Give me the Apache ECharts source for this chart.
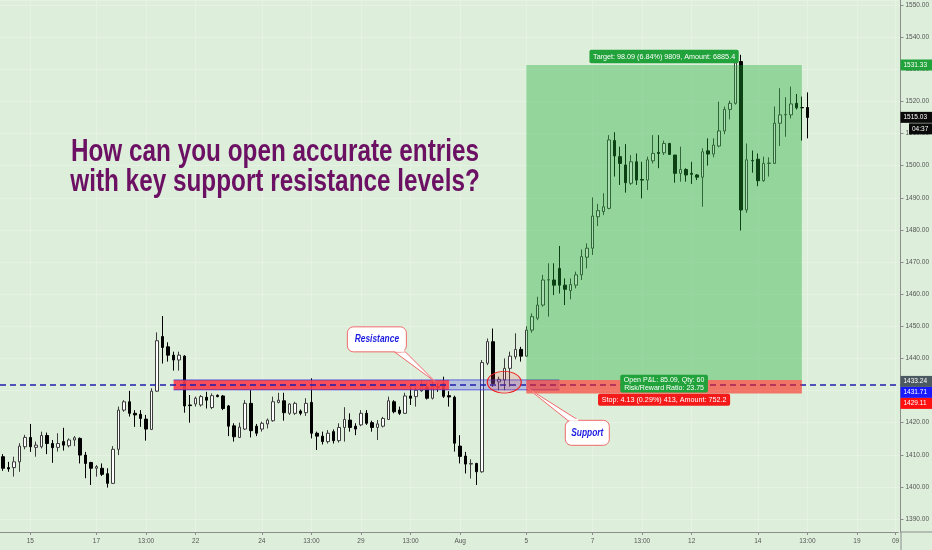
<!DOCTYPE html>
<html><head><meta charset="utf-8">
<script src="https://cdn.jsdelivr.net/npm/echarts@6/dist/echarts.min.js"></script>
<style>html,body{margin:0;padding:0;background:#ddefdb}#c{width:932px;height:550px}</style>
</head><body><div id="c"></div><script>
// ---- data (4h candles) ----
const opens = [1409.4,1406.0,1406.0,1407.8,1412.5,1415.4,1412.3,1412.5,1416.0,1413.5,1412.3,1414.1,1412.8,1414.6,1415.1,1409.9,1407.6,1405.8,1405.8,1404.1,1401.1,1411.7,1423.9,1426.5,1422.9,1422.6,1421.1,1417.9,1429.8,1446.8,1443.6,1441.0,1439.5,1440.7,1425.5,1425.8,1425.5,1427.9,1424.7,1428.5,1428.3,1425.2,1419.0,1415.4,1418.0,1426.0,1418.9,1418.0,1419.6,1420.6,1426.3,1426.8,1422.9,1422.9,1423.6,1423.1,1426.3,1416.7,1415.8,1414.1,1417.2,1414.4,1418.5,1420.8,1418.9,1419.3,1422.9,1420.0,1418.5,1418.9,1421.0,1426.5,1423.9,1422.9,1428.3,1428.1,1429.9,1431.0,1427.6,1431.2,1432.2,1428.4,1427.9,1412.7,1409.6,1407.1,1407.3,1404.7,1438.5,1445.2,1432.7,1433.3,1436.9,1440.5,1442.8,1440.7,1448.8,1452.5,1456.6,1464.4,1464.4,1468.0,1462.8,1461.1,1462.8,1466.0,1471.5,1474.3,1484.1,1485.7,1486.7,1507.8,1502.8,1500.2,1494.5,1501.2,1495.7,1495.5,1501.5,1504.1,1504.0,1506.9,1503.3,1497.6,1498.8,1497.6,1497.1,1496.4,1504.6,1503.6,1506.1,1510.8,1517.5,1519.4,1532.4,1486.2,1501.6,1502.0,1495.3,1500.7,1500.7,1513.2,1515.8,1515.8,1519.4,1518.1,1518.1];
const closes = [1405.8,1405.6,1407.8,1412.7,1415.4,1412.5,1413.0,1416.0,1413.5,1412.2,1413.5,1413.0,1414.6,1415.3,1409.9,1407.3,1405.8,1406.3,1403.9,1401.1,1411.7,1423.9,1426.5,1422.9,1422.4,1421.3,1418.0,1429.8,1445.5,1443.4,1441.0,1439.5,1441.0,1425.2,1425.3,1427.6,1428.1,1427.0,1428.4,1428.1,1424.4,1418.9,1415.6,1418.6,1426.0,1417.5,1416.7,1419.8,1420.8,1426.5,1427.0,1423.1,1425.8,1426.0,1422.9,1426.0,1416.7,1415.8,1414.1,1416.7,1414.4,1418.5,1421.0,1418.5,1418.0,1422.9,1419.8,1418.5,1419.6,1421.3,1426.8,1423.4,1422.9,1428.3,1427.6,1430.1,1431.4,1427.6,1431.2,1431.0,1428.2,1428.0,1413.6,1409.5,1407.1,1407.3,1404.7,1438.7,1445.2,1432.2,1433.5,1436.9,1440.7,1442.8,1440.7,1448.8,1453.0,1456.6,1464.4,1464.5,1462.8,1462.8,1461.5,1463.0,1466.0,1471.7,1474.3,1484.3,1486.0,1487.2,1508.0,1503.0,1500.7,1494.7,1501.2,1495.5,1495.5,1501.8,1503.8,1503.8,1506.9,1503.5,1497.6,1498.8,1497.1,1497.3,1496.4,1504.3,1503.6,1506.4,1510.8,1517.5,1519.4,1532.0,1486.2,1501.8,1501.5,1495.3,1500.7,1500.8,1513.2,1515.8,1515.9,1519.2,1518.0,1518.0,1515.0];
const lows = [1405.0,1404.7,1403.2,1404.7,1411.7,1410.9,1409.4,1412.0,1410.2,1407.5,1411.0,1411.3,1412.3,1412.7,1407.3,1402.7,1400.6,1403.2,1403.4,1399.8,1400.9,1409.9,1423.4,1421.9,1418.7,1418.7,1414.4,1417.7,1429.6,1438.4,1439.0,1436.2,1436.2,1423.1,1420.0,1425.0,1425.0,1424.4,1424.2,1427.9,1423.9,1415.8,1414.1,1415.3,1417.7,1415.4,1415.8,1417.2,1418.2,1420.3,1426.0,1420.6,1422.4,1422.4,1422.3,1422.1,1415.1,1411.5,1413.2,1413.5,1413.5,1413.8,1414.1,1417.2,1416.1,1418.9,1419.3,1417.2,1414.6,1418.5,1420.8,1422.9,1422.4,1422.7,1425.5,1425.0,1429.6,1427.2,1427.2,1429.6,1427.7,1425.0,1411.0,1407.3,1404.2,1402.6,1400.6,1404.4,1437.9,1431.2,1430.1,1430.1,1431.2,1439.7,1439.0,1440.5,1448.0,1451.9,1456.1,1453.0,1459.7,1460.2,1456.6,1458.4,1461.8,1464.4,1468.0,1472.2,1481.2,1484.6,1486.4,1496.6,1494.0,1491.6,1494.0,1494.0,1489.8,1492.4,1500.7,1499.2,1503.3,1503.3,1494.7,1495.0,1495.0,1494.3,1495.5,1487.2,1500.0,1502.6,1505.7,1509.8,1514.4,1519.0,1479.8,1485.3,1497.8,1493.6,1495.0,1496.6,1500.5,1506.1,1509.0,1514.7,1517.5,1507.8,1508.5];
const highs = [1410.2,1407.8,1409.4,1413.6,1416.2,1419.6,1414.1,1417.2,1416.9,1414.6,1416.7,1418.4,1415.1,1415.8,1415.4,1410.9,1407.8,1406.8,1407.3,1405.8,1412.7,1425.0,1427.0,1429.9,1423.9,1423.9,1422.4,1430.7,1448.1,1453.2,1445.0,1442.1,1442.1,1441.0,1428.6,1428.1,1428.6,1429.6,1429.1,1428.8,1428.6,1425.5,1419.8,1420.0,1427.0,1430.1,1419.6,1420.3,1421.3,1428.1,1429.3,1429.3,1426.0,1426.5,1424.1,1427.6,1433.8,1417.2,1417.2,1417.7,1417.9,1419.8,1424.8,1422.9,1419.8,1423.9,1423.9,1420.6,1420.8,1421.8,1428.1,1427.0,1425.0,1429.3,1431.7,1431.2,1433.3,1432.2,1432.7,1432.2,1434.3,1429.8,1428.4,1416.1,1410.9,1408.6,1407.5,1439.5,1446.2,1449.3,1434.3,1440.0,1442.1,1447.8,1443.6,1450.0,1454.0,1459.2,1466.0,1469.6,1469.6,1475.0,1464.9,1464.9,1467.0,1473.9,1475.8,1490.1,1488.1,1491.4,1509.5,1510.4,1505.9,1506.7,1503.3,1503.8,1501.2,1502.8,1509.5,1509.5,1507.8,1507.1,1503.3,1505.9,1499.2,1501.2,1497.4,1505.4,1508.5,1508.5,1519.9,1518.4,1520.2,1535.0,1534.5,1506.9,1504.7,1503.8,1502.8,1502.6,1518.4,1524.1,1521.3,1524.6,1522.3,1521.5,1522.8];
const categoryCount = 163;
const tickIndex  = [5,17,26,35,47,56,65,74,83,95,107,116,125,137,146,155,162];
const tickLabels = ['15','17','13:00','22','24','13:00','29','13:00','Aug','5','7','13:00','12','14','13:00','19','09'];
const yMin = 1385.96, yMax = 1551.56;
// drawing levels
const targetPrice = 1531.33, lastPrice = 1515.03, entryPrice = 1433.24, linePrice = 1431.71, stopPrice = 1429.11;
const resistanceTop = 1433.3, resistanceBottom = 1430.2;
const resistanceStart = 31, resistanceEnd = 81, boxEnd = 101;
const positionStart = 95, positionEnd = 145;
const targetText = 'Target: 98.09 (6.84%) 9809, Amount: 6885.4';
const pnlText = 'Open P&L: 85.09, Qty: 60\nRisk/Reward Ratio: 23.75';
const stopText = 'Stop: 4.13 (0.29%) 413, Amount: 752.2';
const countdownText = '04:37';
const titleLines = ['How can you open accurate entries', 'with key support resistance levels?'];

// ---- chart ----
const BG = '#ddefdb';
const FONT = '"Liberation Sans", Arial, sans-serif';
const chart = echarts.init(document.getElementById('c'));
const categories = Array.from({length: categoryCount}, (_, i) => String(i));
const isTick = (i) => tickIndex.indexOf(i) >= 0;
const tickText = (i) => { const k = tickIndex.indexOf(i); return k < 0 ? '' : tickLabels[k]; };
const ohlc = opens.map((o, i) => [o, closes[i], lows[i], highs[i]]);

chart.setOption({
  animation: false,
  backgroundColor: BG,
  grid: {left: -3.07, right: 31.2, top: 0, bottom: 18},
  xAxis: {
    type: 'category', data: categories, boundaryGap: true,
    axisLine: {show: true, lineStyle: {color: '#8c8c8c'}},
    axisTick: {show: true, alignWithLabel: true, interval: (i) => isTick(i), length: 3, lineStyle: {color: '#8c8c8c'}},
    axisLabel: {interval: (i) => isTick(i), formatter: (v, i) => tickText(i), color: '#555555', fontSize: 6.5, fontFamily: FONT, margin: 6},
    splitLine: {show: true, alignWithLabel: true, interval: (i) => isTick(i), lineStyle: {color: '#e6f3e4', width: 1}}
  },
  yAxis: {
    type: 'value', position: 'right', min: yMin, max: yMax, splitNumber: 16, minInterval: 10, maxInterval: 10, offset: 2.2, scale: true,
    axisLine: {show: true, lineStyle: {color: '#8c8c8c'}},
    axisTick: {show: true, length: 3, lineStyle: {color: '#8c8c8c'}},
    axisLabel: {show: true, showMinLabel: false, showMaxLabel: false, formatter: (v) => v.toFixed(2), color: '#555555', fontSize: 6.5, fontFamily: FONT, margin: 5},
    splitLine: {show: true, lineStyle: {color: '#e6f3e4', width: 1}}
  },
  series: [{
    type: 'candlestick', data: ohlc, barWidth: 3, z: 2,
    itemStyle: {color: '#ffffff', color0: '#000000', borderColor: '#3c3c3c', borderColor0: '#000000', borderWidth: 1}
  }]
});

const px = (i) => chart.convertToPixel({xAxisIndex: 0}, i);
const py = (v) => chart.convertToPixel({yAxisIndex: 0}, v);
const gridRight = px(categoryCount - 1) + (px(1) - px(0)) / 2 + 2.2;
const g = [];
function rect(x0, y0, x1, y1, fill, stroke, z) {
  const el = {type: 'rect', z: z, shape: {x: Math.min(x0, x1), y: Math.min(y0, y1), width: Math.abs(x1 - x0), height: Math.abs(y1 - y0)}, style: {}};
  if (fill) el.style.fill = fill; else el.style.fill = 'transparent';
  if (stroke) { el.style.stroke = stroke; el.style.lineWidth = 1; }
  g.push(el);
}
function tag(text, cx, cy, bg, z, opt) {
  opt = opt || {};
  g.push({type: 'text', z: z, x: cx, y: cy, scaleX: opt.sx || 0.88,
    style: {text: text, font: (opt.font || '8px ' + FONT), fill: '#ffffff', align: 'center', verticalAlign: 'middle',
      backgroundColor: bg, padding: opt.pad || [2, 4, 2, 4], borderRadius: 2, lineHeight: opt.lh || 9}});
}

// resistance band (red part) and blue box (translucent part to the right)
rect(px(resistanceStart), py(resistanceTop), px(resistanceEnd), py(resistanceBottom), 'rgba(250,60,75,0.9)', null, 3);
rect(px(resistanceEnd), py(resistanceTop), px(boxEnd), py(resistanceBottom), 'rgba(80,80,230,0.28)', null, 3);
g.push({type: 'line', z: 4, shape: {x1: px(resistanceStart), y1: py(resistanceTop), x2: px(boxEnd), y2: py(resistanceTop)}, style: {stroke: 'rgba(40,40,210,0.85)', lineWidth: 0.8}});
g.push({type: 'line', z: 4, shape: {x1: px(resistanceStart), y1: py(resistanceBottom), x2: px(boxEnd), y2: py(resistanceBottom)}, style: {stroke: 'rgba(40,40,210,0.85)', lineWidth: 0.8}});
// dashed horizontal line
g.push({type: 'line', z: 5, shape: {x1: 0, y1: py(linePrice), x2: gridRight, y2: py(linePrice)},
  style: {stroke: '#1e1eae', lineWidth: 1.4, lineDash: [6, 4]}});
// position zones
const zx0 = px(positionStart), zx1 = px(positionEnd);
rect(zx0, py(targetPrice), zx1, py(entryPrice), 'rgba(30,172,50,0.38)', null, 6);
rect(zx0, py(entryPrice), zx1, py(stopPrice), 'rgba(255,35,25,0.6)', null, 6);
// ellipse
g.push({type: 'circle', z: 7, x: px(91), y: py(1432.6), scaleY: 0.64, shape: {cx: 0, cy: 0, r: 17},
  style: {fill: 'rgba(255,60,60,0.16)', stroke: '#f01c1c', lineWidth: 1.2, strokeNoScale: true}});
// callouts
function callout(tip, box, base, text) {
  g.push({type: 'polygon', z: 8, shape: {points: [[base[0][0], base[0][1]], [base[1][0], base[1][1]], tip]},
    style: {fill: '#ffffff', stroke: '#f06a6a', lineWidth: 1}});
  g.push({type: 'rect', z: 8, shape: {x: box[0], y: box[1], width: box[2], height: box[3], r: 6},
    style: {fill: '#ffffff', stroke: '#f06a6a', lineWidth: 1}});
  g.push({type: 'polyline', z: 8, shape: {points: [[base[0][0] + 1, base[0][1] - 1], [base[1][0] - 1, base[1][1] - 1]]},
    style: {stroke: '#ffffff', lineWidth: 2}});
  g.push({type: 'text', z: 9, x: box[0] + box[2] / 2, y: box[1] + box[3] / 2, scaleX: 0.8,
    style: {text: text, font: 'italic bold 10.5px ' + FONT, fill: '#1c1ce0', align: 'center', verticalAlign: 'middle'}});
}
const rt = [(px(78) + px(79)) / 2, py(1432.7)];
callout(rt, [rt[0] - 88, rt[1] - 55, 59, 25], [[rt[0] - 41, rt[1] - 30], [rt[0] - 30, rt[1] - 30]], 'Resistance');
const st = [px(positionStart), py(1431.0)];
callout(st, [st[0] + 39, st[1] + 33, 44, 25], [[st[0] + 42, st[1] + 33.5], [st[0] + 53, st[1] + 33.5]], 'Support');
// position labels
const zc = (zx0 + zx1) / 2;
tag(targetText, zc, py(targetPrice) - 8.5, '#22a23a', 10, {pad: [2.5, 4, 2, 4], sx: 0.9});
tag(pnlText, zc, py(entryPrice) + 3.5, '#22a23a', 10, {lh: 7.6, pad: [1.5, 4, 1, 4], sx: 0.88});
tag(stopText, zc, py(stopPrice) + 6.3, '#f41a1a', 10, {pad: [1.5, 4, 1.5, 4], sx: 0.9});
// price scale labels
function axisTag(text, y, bg, x0) {
  const x = x0 || gridRight;
  g.push({type: 'rect', z: 11, shape: {x: x, y: y - 5.5, width: 932 - x, height: 11}, style: {fill: bg}});
  g.push({type: 'text', z: 12, x: x + 3, y: y, style: {text: text, font: '6.5px ' + FONT, fill: '#ffffff', align: 'left', verticalAlign: 'middle'}});
}
axisTag(targetPrice.toFixed(2), py(targetPrice), '#22a23a');
axisTag(lastPrice.toFixed(2), py(lastPrice), '#0a0a0a');
axisTag(countdownText, py(lastPrice) + 11.5, '#0a0a0a', gridRight + 8.5);
const ey = py(entryPrice) + 1.3;
axisTag(entryPrice.toFixed(2), ey, '#4a5a60');
axisTag(linePrice.toFixed(2), ey + 11, '#1a1aff');
axisTag(stopPrice.toFixed(2), ey + 22, '#ff1010');
// axis line extensions
const axY = py(yMin);
g.push({type: 'line', z: 1, shape: {x1: gridRight, y1: axY, x2: 932, y2: axY}, style: {stroke: '#8c8c8c', lineWidth: 1}});
g.push({type: 'line', z: 1, shape: {x1: gridRight + 0.5, y1: axY, x2: gridRight + 0.5, y2: 550}, style: {stroke: '#8c8c8c', lineWidth: 1}});
// title
titleLines.forEach((t, k) => {
  g.push({type: 'text', z: 12, x: 275, y: 152 + k * 30.5, scaleX: 0.76,
    style: {text: t, font: 'bold 32px ' + FONT, fill: '#6c1064', align: 'center', verticalAlign: 'middle'}});
});

chart.setOption({graphic: {elements: g}});
</script></body></html>
